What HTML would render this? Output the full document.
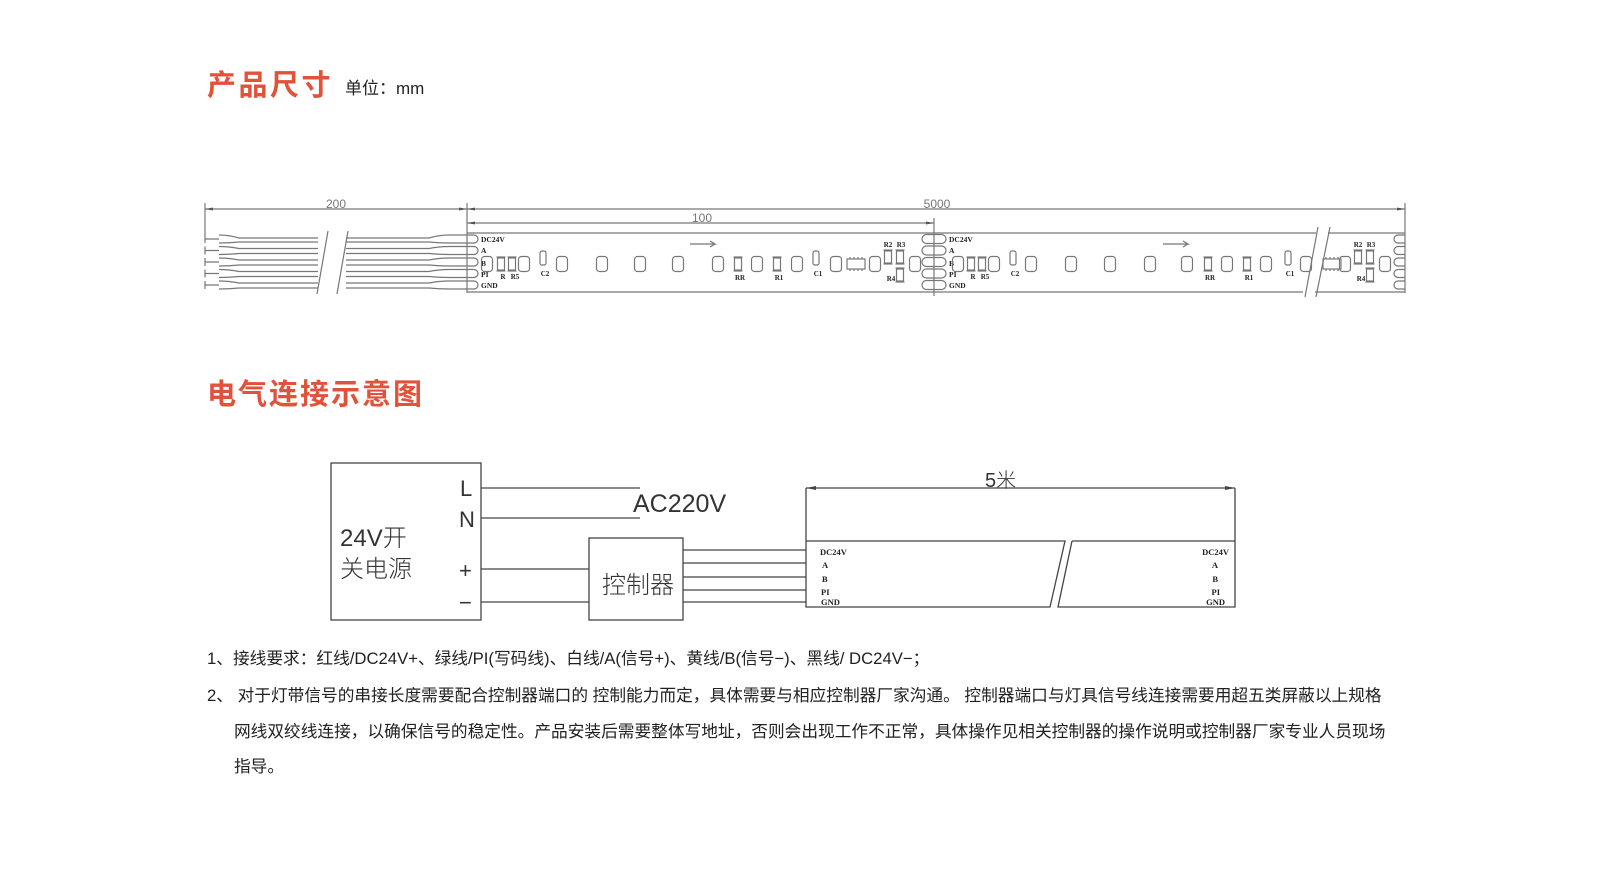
<!DOCTYPE html>
<html><head><meta charset="utf-8"><style>
html,body{margin:0;padding:0;background:#fff;width:1600px;height:875px;overflow:hidden}
svg{display:block}
.h{font-family:"Liberation Sans","Noto Sans CJK SC",sans-serif;font-weight:bold;fill:#e0533a}
.t{font-family:"Liberation Sans","Noto Sans CJK SC",sans-serif;fill:#222}
.s{font-family:"Liberation Serif","DejaVu Serif",serif;font-weight:bold;fill:#222}
.g{stroke:#777;stroke-width:1.2;fill:none}
.k{stroke:#444;stroke-width:1.3;fill:none}
</style></head><body>
<svg width="1600" height="875" viewBox="0 0 1600 875" xmlns="http://www.w3.org/2000/svg">
<defs>
<g id="led"><rect x="-5.5" y="-7.5" width="11" height="15" rx="3" class="g" stroke="#555"/></g>
<g id="res"><rect x="-3.5" y="-6" width="7" height="12" class="g"/><line x1="-4.5" y1="-7" x2="4.5" y2="-7" class="g"/><line x1="-4.5" y1="7" x2="4.5" y2="7" class="g"/></g>
<g id="cap"><rect x="-3" y="-7" width="6" height="14" rx="2" class="g"/></g>
<g id="ic"><rect x="-9" y="-5" width="18" height="10" class="g"/><path d="M-6 -5v-2M-2 -5v-2M2 -5v-2M6 -5v-2M-6 5v2M-2 5v2M2 5v2M6 5v2" class="g"/></g>
<g id="oval"><rect x="-12" y="-4.5" width="24" height="9" rx="4.5" class="g"/></g>
</defs>

<text x="207" y="95" class="h" font-size="29" letter-spacing="2.5">产品尺寸</text>
<text x="345" y="94" class="t" font-size="17">单位：mm</text>
<text x="207" y="404" class="h" font-size="29" letter-spacing="2">电气连接示意图</text>

<!-- dimension lines -->
<g class="g">
<line x1="205" y1="209" x2="1405" y2="209"/>
<line x1="205" y1="203" x2="205" y2="235"/>
<line x1="467" y1="203" x2="467" y2="293"/>
<line x1="1405" y1="203" x2="1405" y2="293"/>
<line x1="467" y1="223" x2="934" y2="223"/>
<line x1="934" y1="218" x2="934" y2="296"/>
</g>
<path d="M205 209l8 -1.5v3z M467 209l-8 -1.5v3z M467 209l8 -1.5v3z M1405 209l-8 -1.5v3z M467 223l8 -1.5v3z M934 223l-8 -1.5v3z" fill="#555"/>
<g font-family="Liberation Sans,sans-serif" font-size="12" fill="#777" text-anchor="middle">
<text x="336" y="208">200</text><text x="702" y="222">100</text><text x="937" y="208">5000</text>
</g>

<!-- wires -->
<g class="g">
<path d="M205 239h14M205 250.5h14M205 262h14M205 273.5h14M205 285h14"/>
<path d="M205 235v8M205 246.5v8M205 258v8M205 269.5v8M205 281v8"/>
<path d="M219 235q10 0 20 3h190q10 -3 20 -3h18 M219 243q10 0 20 -1h190q10 1 20 1h18"/>
<path d="M219 246.5q10 0 20 2h190q10 -2 20 -2h18 M219 254.5q10 0 20 -1h190q10 1 20 1h18"/>
<path d="M219 258q10 0 20 2h190q10 -2 20 -2h18 M219 266q10 0 20 -1h190q10 1 20 1h18"/>
<path d="M219 269.5q10 0 20 2h190q10 -2 20 -2h18 M219 277.5q10 0 20 -1h190q10 1 20 1h18"/>
<path d="M219 281q10 0 20 2h190q10 -2 20 -2h18 M219 289q10 0 20 -1h190q10 1 20 1h18"/>
</g>
<rect x="318" y="230" width="28" height="65" fill="#fff"/>
<path d="M328 231L317 294M348 231L337 294" class="g"/>

<!-- strip -->
<path d="M467 233H1316M1328 233H1405M467 292H1303M1315 292H1405" class="g"/>
<path d="M1318 227L1305 297M1330 227L1316 297" class="g"/>
<g class="g">
<path d="M467 235h7a4 4 0 0 1 0 8h-7M467 246.5h7a4 4 0 0 1 0 8h-7M467 258h7a4 4 0 0 1 0 8h-7M467 269.5h7a4 4 0 0 1 0 8h-7M467 281h7a4 4 0 0 1 0 8h-7"/>
<path d="M1405 235h-7a4 4 0 0 0 0 8h7M1405 246.5h-7a4 4 0 0 0 0 8h7M1405 258h-7a4 4 0 0 0 0 8h7M1405 269.5h-7a4 4 0 0 0 0 8h7M1405 281h-7a4 4 0 0 0 0 8h7"/>
</g>
<use href="#oval" x="934" y="239"/><use href="#oval" x="934" y="250.5"/><use href="#oval" x="934" y="262"/><use href="#oval" x="934" y="273.5"/><use href="#oval" x="934" y="285"/>
<g class="s" font-size="7.5">
<text x="481" y="242">DC24V</text><text x="481" y="253">A</text><text x="481" y="266">B</text><text x="481" y="277">PI</text><text x="481" y="288">GND</text>
<text x="949" y="242">DC24V</text><text x="949" y="253">A</text><text x="949" y="266">B</text><text x="949" y="277">PI</text><text x="949" y="288">GND</text>
</g>
<g>
<use href="#led" x="487" y="264"/><use href="#led" x="524" y="264"/><use href="#led" x="562" y="264"/><use href="#led" x="602" y="264"/><use href="#led" x="640" y="264"/><use href="#led" x="678" y="264"/><use href="#led" x="718" y="264"/><use href="#led" x="757" y="264"/><use href="#led" x="797" y="264"/><use href="#led" x="836" y="264"/><use href="#led" x="875" y="264"/><use href="#led" x="915" y="264"/>
<use href="#led" x="958" y="264"/><use href="#led" x="994" y="264"/><use href="#led" x="1031" y="264"/><use href="#led" x="1071" y="264"/><use href="#led" x="1110" y="264"/><use href="#led" x="1150" y="264"/><use href="#led" x="1187" y="264"/><use href="#led" x="1227" y="264"/><use href="#led" x="1266" y="264"/><use href="#led" x="1306" y="264"/><use href="#led" x="1345" y="264"/><use href="#led" x="1385" y="264"/>
<use href="#res" x="501" y="264"/><use href="#res" x="512" y="264"/><use href="#cap" x="543" y="258"/>
<use href="#res" x="738" y="264"/><use href="#res" x="777" y="264"/><use href="#cap" x="816" y="258"/><use href="#ic" x="856" y="264"/>
<use href="#res" x="888" y="257"/><use href="#res" x="900" y="257"/><use href="#res" x="900" y="275"/>
<use href="#res" x="971" y="264"/><use href="#res" x="982" y="264"/><use href="#cap" x="1013" y="258"/>
<use href="#res" x="1208" y="264"/><use href="#res" x="1247" y="264"/><use href="#cap" x="1288" y="258"/><use href="#ic" x="1332" y="264"/>
<use href="#res" x="1358" y="257"/><use href="#res" x="1370" y="257"/><use href="#res" x="1370" y="275"/>
</g>
<g class="s" font-size="7" text-anchor="middle">
<text x="503" y="279">R</text><text x="515" y="279">R5</text><text x="545" y="276">C2</text>
<text x="740" y="280">RR</text><text x="779" y="280">R1</text><text x="818" y="276">C1</text>
<text x="888" y="247">R2</text><text x="901" y="247">R3</text><text x="891" y="281">R4</text>
<text x="973" y="279">R</text><text x="985" y="279">R5</text><text x="1015" y="276">C2</text>
<text x="1210" y="280">RR</text><text x="1249" y="280">R1</text><text x="1290" y="276">C1</text>
<text x="1358" y="247">R2</text><text x="1371" y="247">R3</text><text x="1361" y="281">R4</text>
</g>
<path d="M690 244h25l-5 -3M715 244l-5 3M1163 244h25l-5 -3M1188 244l-5 3" class="g"/>

<!-- wiring diagram -->
<g class="k">
<rect x="331" y="463" width="150" height="157"/>
<rect x="589" y="538" width="94" height="82"/>
<line x1="481" y1="488" x2="640" y2="488"/>
<line x1="481" y1="518" x2="640" y2="518"/>
<line x1="481" y1="569" x2="589" y2="569"/>
<line x1="481" y1="602" x2="589" y2="602"/>
<line x1="683" y1="550" x2="806" y2="550"/><line x1="683" y1="563" x2="806" y2="563"/><line x1="683" y1="577" x2="806" y2="577"/><line x1="683" y1="590" x2="806" y2="590"/><line x1="683" y1="602" x2="806" y2="602"/>
<path d="M806 488V607H1050L1065 541H806M1072 541H1235V607H1058L1072 541"/>
<line x1="806" y1="488" x2="1235" y2="488"/><line x1="1235" y1="488" x2="1235" y2="541"/>
</g>
<path d="M806 488l10 -2v4zM1235 488l-10 -2v4z" fill="#444"/>
<g font-family="Liberation Sans,'Noto Sans CJK SC',sans-serif" fill="#333" font-weight="300">
<text x="460" y="496" font-size="22">L</text>
<text x="459" y="527" font-size="22">N</text>
<text x="459" y="578" font-size="22">+</text>
<text x="459" y="610" font-size="22">−</text>
<text x="633" y="512" font-size="25">AC220V</text>
<text x="340" y="546" font-size="24">24V开</text>
<text x="340" y="577" font-size="24">关电源</text>
<text x="602" y="593" font-size="24">控制器</text>
<text x="985" y="487" font-size="20">5米</text>
</g>
<g class="s" font-size="8.5">
<text x="820" y="555">DC24V</text><text x="822" y="568">A</text><text x="822" y="582">B</text><text x="821" y="595">PI</text><text x="821" y="605">GND</text>
</g>
<g class="s" font-size="8.5" text-anchor="end">
<text x="1229" y="555">DC24V</text><text x="1218" y="568">A</text><text x="1218" y="582">B</text><text x="1220" y="595">PI</text><text x="1225" y="605">GND</text>
</g>

<g class="t" font-size="16.7">
<text x="207" y="664">1、接线要求：红线/DC24V+、绿线/PI(写码线)、白线/A(信号+)、黄线/B(信号−)、黑线/ DC24V−；</text>
<text x="207" y="701">2、 对于灯带信号的串接长度需要配合控制器端口的 控制能力而定，具体需要与相应控制器厂家沟通。 控制器端口与灯具信号线连接需要用超五类屏蔽以上规格</text>
<text x="234" y="737">网线双绞线连接，以确保信号的稳定性。产品安装后需要整体写地址，否则会出现工作不正常，具体操作见相关控制器的操作说明或控制器厂家专业人员现场</text>
<text x="234" y="772">指导。</text>
</g>
</svg>
</body></html>
